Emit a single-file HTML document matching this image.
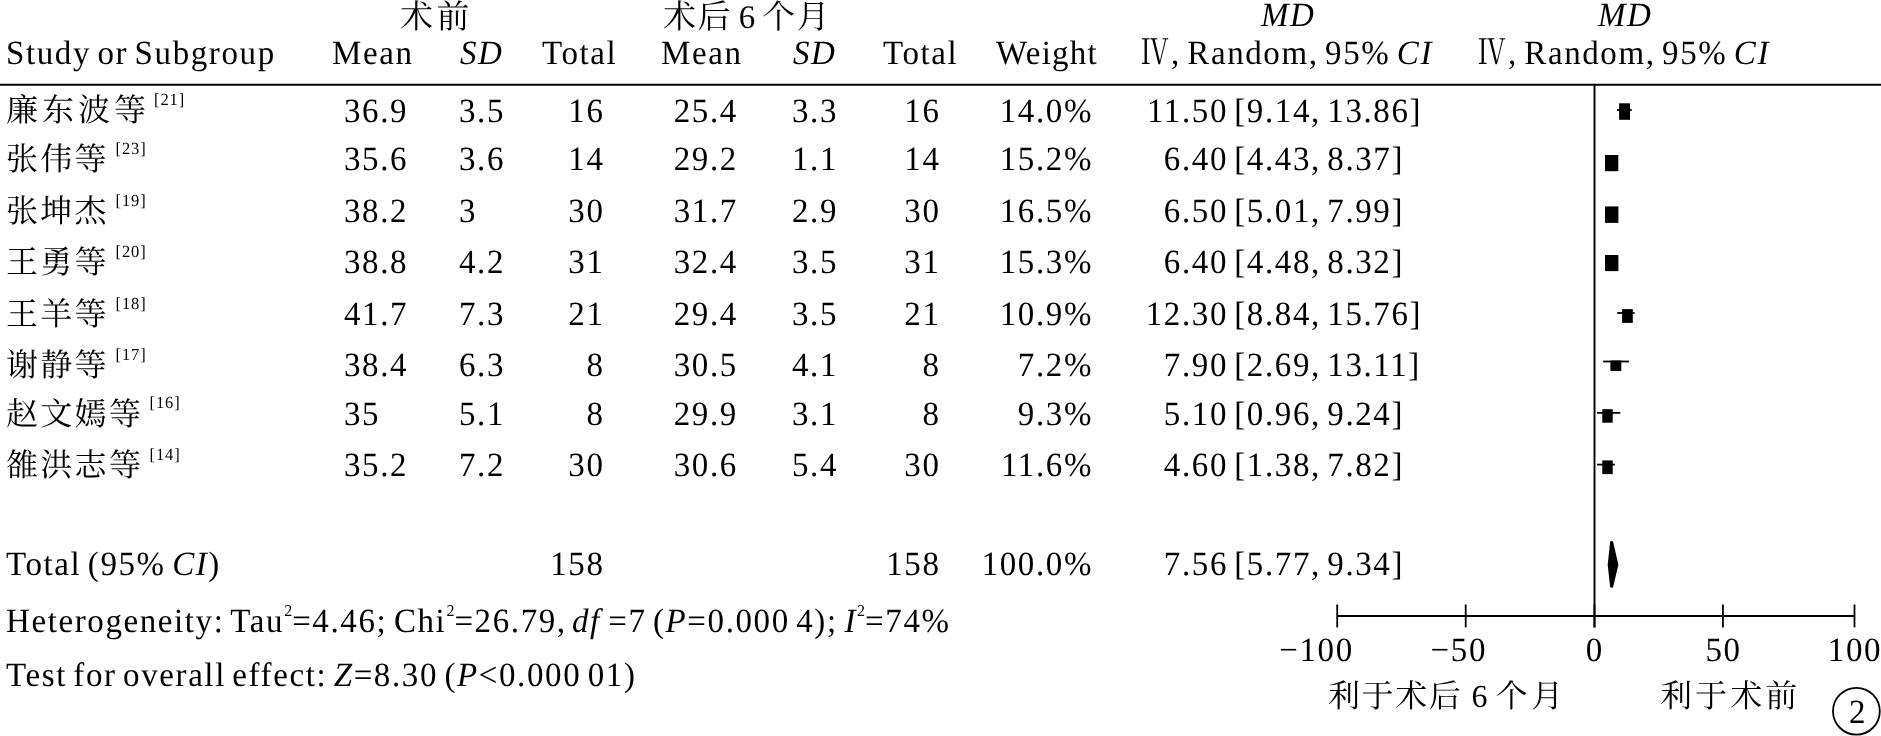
<!DOCTYPE html>
<html><head><meta charset="utf-8"><title>Forest plot</title>
<style>
html,body{margin:0;padding:0;background:#fff;width:1881px;height:736px;overflow:hidden}
svg{display:block;text-rendering:geometricPrecision;will-change:transform}
text{font-family:'Liberation Serif', 'Noto Serif CJK SC', serif;font-size:33px;letter-spacing:1.6px;word-spacing:-3.4px;fill:#000}
</style></head>
<body>
<svg width="1881" height="736" viewBox="0 0 1881 736">
<line x1="0" y1="84.75" x2="1881" y2="84.75" stroke="#000" stroke-width="2.2"/>
<line x1="1594.5" y1="84.75" x2="1594.5" y2="627.4" stroke="#000" stroke-width="1.9"/>
<rect x="1619.1" y="103.3" width="10.90" height="16.50" fill="#000"/>
<line x1="1617.1" y1="110" x2="1631.8" y2="110" stroke="#000" stroke-width="1.8"/>
<rect x="1605" y="155" width="13.30" height="16.20" fill="#000"/>
<rect x="1605" y="206.4" width="13.40" height="16.50" fill="#000"/>
<rect x="1605" y="255" width="13.40" height="16.10" fill="#000"/>
<rect x="1622.1" y="309.1" width="10.70" height="13.80" fill="#000"/>
<line x1="1617.2" y1="313" x2="1634.6" y2="313" stroke="#000" stroke-width="1.8"/>
<rect x="1610.4" y="360.5" width="10.90" height="10.50" fill="#000"/>
<line x1="1603.2" y1="361.5" x2="1628.9" y2="361.5" stroke="#000" stroke-width="1.8"/>
<rect x="1602.3" y="409.2" width="10.40" height="13.50" fill="#000"/>
<line x1="1597.1" y1="412.9" x2="1620.3" y2="412.9" stroke="#000" stroke-width="1.8"/>
<rect x="1602.3" y="460.4" width="10.40" height="13.70" fill="#000"/>
<line x1="1597.1" y1="464.6" x2="1614.8" y2="464.6" stroke="#000" stroke-width="1.8"/>
<polygon points="1610.2,541.2 1613,541.2 1618.4,564.7 1613,587.6 1610.2,587.6 1607.7,564.7" fill="#000"/>
<line x1="1337.2" y1="615.9" x2="1854.5" y2="615.9" stroke="#000" stroke-width="2"/>
<line x1="1337.2" y1="604.5" x2="1337.2" y2="627.4" stroke="#000" stroke-width="1.8"/>
<line x1="1465.7" y1="604.5" x2="1465.7" y2="627.4" stroke="#000" stroke-width="1.8"/>
<line x1="1594.5" y1="604.5" x2="1594.5" y2="627.4" stroke="#000" stroke-width="1.8"/>
<line x1="1722.95" y1="604.5" x2="1722.95" y2="627.4" stroke="#000" stroke-width="1.8"/>
<line x1="1854.5" y1="604.5" x2="1854.5" y2="627.4" stroke="#000" stroke-width="1.8"/>
<circle cx="1856.4" cy="711.2" r="23.4" fill="none" stroke="#000" stroke-width="1.8"/>
<text x="400.00" y="27.80">术<tspan x="436.5">前</tspan></text>
<text x="663.00" y="27.80">术后<tspan x="738.7">6</tspan><tspan x="762">个月</tspan></text>
<text x="1261.00" y="25.90" transform="matrix(1,0,0,1.03,0,-0.777)"><tspan font-style="italic">MD</tspan></text>
<text x="1598.00" y="25.90" transform="matrix(1,0,0,1.03,0,-0.777)"><tspan font-style="italic">MD</tspan></text>
<text x="6.00" y="63.70" transform="matrix(1,0,0,1.03,0,-1.911)">Study or Subgroup</text>
<text x="332.00" y="63.70" transform="matrix(1,0,0,1.03,0,-1.911)">Mean</text>
<text x="460.00" y="63.70" transform="matrix(1,0,0,1.03,0,-1.911)"><tspan font-style="italic">SD</tspan></text>
<text x="542.00" y="63.70" transform="matrix(1,0,0,1.03,0,-1.911)">Total</text>
<text x="661.00" y="63.70" transform="matrix(1,0,0,1.03,0,-1.911)">Mean</text>
<text x="793.00" y="63.70" transform="matrix(1,0,0,1.03,0,-1.911)"><tspan font-style="italic">SD</tspan></text>
<text x="883.00" y="63.70" transform="matrix(1,0,0,1.03,0,-1.911)">Total</text>
<text x="996.00" y="63.70" transform="matrix(1,0,0,1.03,0,-1.911)" style="letter-spacing:1.25px;">Weight</text>
<text transform="translate(1141.00,64.40) scale(0.84,1.05)" style="font-size:33px;letter-spacing:0">Ⅳ</text>
<text x="1171.00" y="64.40" transform="matrix(1,0,0,1.03,0,-1.932)">, Random, 95% <tspan font-style="italic">CI</tspan></text>
<text transform="translate(1478.00,64.40) scale(0.84,1.05)" style="font-size:33px;letter-spacing:0">Ⅳ</text>
<text x="1508.00" y="64.40" transform="matrix(1,0,0,1.03,0,-1.932)">, Random, 95% <tspan font-style="italic">CI</tspan></text>
<text x="6.00" y="120.70" style="font-size:32px;letter-spacing:4.0px;">廉东波等</text>
<text x="154.00" y="105.50" transform="matrix(1,0,0,1.03,0,-3.165)" style="font-size:16.5px;letter-spacing:0.9px;">[21]</text>
<text x="344.00" y="121.70" transform="matrix(1,0,0,1.03,0,-3.651)">36.9</text>
<text x="459.00" y="121.70" transform="matrix(1,0,0,1.03,0,-3.651)">3.5</text>
<text x="604.50" y="121.70" text-anchor="end" transform="matrix(1,0,0,1.03,0,-3.651)">16</text>
<text x="673.75" y="121.70" transform="matrix(1,0,0,1.03,0,-3.651)">25.4</text>
<text x="792.00" y="121.70" transform="matrix(1,0,0,1.03,0,-3.651)">3.3</text>
<text x="940.50" y="121.70" text-anchor="end" transform="matrix(1,0,0,1.03,0,-3.651)">16</text>
<text x="1093.00" y="121.70" text-anchor="end" transform="matrix(1,0,0,1.03,0,-3.651)">14.0%</text>
<text x="1228.00" y="121.70" text-anchor="end" transform="matrix(1,0,0,1.03,0,-3.651)">11.50</text>
<text x="1234.25" y="121.70" transform="matrix(1,0,0,1.03,0,-3.651)">[9.14, 13.86]</text>
<text x="6.00" y="169.90" style="font-size:32px;letter-spacing:2.3px;">张伟等</text>
<text x="115.50" y="153.70" transform="matrix(1,0,0,1.03,0,-4.611)" style="font-size:16.5px;letter-spacing:0.9px;">[23]</text>
<text x="344.00" y="169.90" transform="matrix(1,0,0,1.03,0,-5.097)">35.6</text>
<text x="459.00" y="169.90" transform="matrix(1,0,0,1.03,0,-5.097)">3.6</text>
<text x="604.50" y="169.90" text-anchor="end" transform="matrix(1,0,0,1.03,0,-5.097)">14</text>
<text x="673.75" y="169.90" transform="matrix(1,0,0,1.03,0,-5.097)">29.2</text>
<text x="792.00" y="169.90" transform="matrix(1,0,0,1.03,0,-5.097)">1.1</text>
<text x="940.50" y="169.90" text-anchor="end" transform="matrix(1,0,0,1.03,0,-5.097)">14</text>
<text x="1093.00" y="169.90" text-anchor="end" transform="matrix(1,0,0,1.03,0,-5.097)">15.2%</text>
<text x="1228.00" y="169.90" text-anchor="end" transform="matrix(1,0,0,1.03,0,-5.097)">6.40</text>
<text x="1234.25" y="169.90" transform="matrix(1,0,0,1.03,0,-5.097)">[4.43, 8.37]</text>
<text x="6.00" y="221.70" style="font-size:32px;letter-spacing:2.3px;">张坤杰</text>
<text x="115.50" y="205.50" transform="matrix(1,0,0,1.03,0,-6.165)" style="font-size:16.5px;letter-spacing:0.9px;">[19]</text>
<text x="344.00" y="221.70" transform="matrix(1,0,0,1.03,0,-6.651)">38.2</text>
<text x="459.00" y="221.70" transform="matrix(1,0,0,1.03,0,-6.651)">3</text>
<text x="604.50" y="221.70" text-anchor="end" transform="matrix(1,0,0,1.03,0,-6.651)">30</text>
<text x="673.75" y="221.70" transform="matrix(1,0,0,1.03,0,-6.651)">31.7</text>
<text x="792.00" y="221.70" transform="matrix(1,0,0,1.03,0,-6.651)">2.9</text>
<text x="940.50" y="221.70" text-anchor="end" transform="matrix(1,0,0,1.03,0,-6.651)">30</text>
<text x="1093.00" y="221.70" text-anchor="end" transform="matrix(1,0,0,1.03,0,-6.651)">16.5%</text>
<text x="1228.00" y="221.70" text-anchor="end" transform="matrix(1,0,0,1.03,0,-6.651)">6.50</text>
<text x="1234.25" y="221.70" transform="matrix(1,0,0,1.03,0,-6.651)">[5.01, 7.99]</text>
<text x="6.00" y="272.70" style="font-size:32px;letter-spacing:2.3px;">王勇等</text>
<text x="115.50" y="256.50" transform="matrix(1,0,0,1.03,0,-7.695)" style="font-size:16.5px;letter-spacing:0.9px;">[20]</text>
<text x="344.00" y="272.70" transform="matrix(1,0,0,1.03,0,-8.181)">38.8</text>
<text x="459.00" y="272.70" transform="matrix(1,0,0,1.03,0,-8.181)">4.2</text>
<text x="604.50" y="272.70" text-anchor="end" transform="matrix(1,0,0,1.03,0,-8.181)">31</text>
<text x="673.75" y="272.70" transform="matrix(1,0,0,1.03,0,-8.181)">32.4</text>
<text x="792.00" y="272.70" transform="matrix(1,0,0,1.03,0,-8.181)">3.5</text>
<text x="940.50" y="272.70" text-anchor="end" transform="matrix(1,0,0,1.03,0,-8.181)">31</text>
<text x="1093.00" y="272.70" text-anchor="end" transform="matrix(1,0,0,1.03,0,-8.181)">15.3%</text>
<text x="1228.00" y="272.70" text-anchor="end" transform="matrix(1,0,0,1.03,0,-8.181)">6.40</text>
<text x="1234.25" y="272.70" transform="matrix(1,0,0,1.03,0,-8.181)">[4.48, 8.32]</text>
<text x="6.00" y="324.70" style="font-size:32px;letter-spacing:2.3px;">王羊等</text>
<text x="115.50" y="308.50" transform="matrix(1,0,0,1.03,0,-9.255)" style="font-size:16.5px;letter-spacing:0.9px;">[18]</text>
<text x="344.00" y="324.70" transform="matrix(1,0,0,1.03,0,-9.741)">41.7</text>
<text x="459.00" y="324.70" transform="matrix(1,0,0,1.03,0,-9.741)">7.3</text>
<text x="604.50" y="324.70" text-anchor="end" transform="matrix(1,0,0,1.03,0,-9.741)">21</text>
<text x="673.75" y="324.70" transform="matrix(1,0,0,1.03,0,-9.741)">29.4</text>
<text x="792.00" y="324.70" transform="matrix(1,0,0,1.03,0,-9.741)">3.5</text>
<text x="940.50" y="324.70" text-anchor="end" transform="matrix(1,0,0,1.03,0,-9.741)">21</text>
<text x="1093.00" y="324.70" text-anchor="end" transform="matrix(1,0,0,1.03,0,-9.741)">10.9%</text>
<text x="1228.00" y="324.70" text-anchor="end" transform="matrix(1,0,0,1.03,0,-9.741)">12.30</text>
<text x="1234.25" y="324.70" transform="matrix(1,0,0,1.03,0,-9.741)">[8.84, 15.76]</text>
<text x="6.00" y="376.10" style="font-size:32px;letter-spacing:2.3px;">谢静等</text>
<text x="115.50" y="359.90" transform="matrix(1,0,0,1.03,0,-10.797)" style="font-size:16.5px;letter-spacing:0.9px;">[17]</text>
<text x="344.00" y="376.10" transform="matrix(1,0,0,1.03,0,-11.283)">38.4</text>
<text x="459.00" y="376.10" transform="matrix(1,0,0,1.03,0,-11.283)">6.3</text>
<text x="604.50" y="376.10" text-anchor="end" transform="matrix(1,0,0,1.03,0,-11.283)">8</text>
<text x="673.75" y="376.10" transform="matrix(1,0,0,1.03,0,-11.283)">30.5</text>
<text x="792.00" y="376.10" transform="matrix(1,0,0,1.03,0,-11.283)">4.1</text>
<text x="940.50" y="376.10" text-anchor="end" transform="matrix(1,0,0,1.03,0,-11.283)">8</text>
<text x="1093.00" y="376.10" text-anchor="end" transform="matrix(1,0,0,1.03,0,-11.283)">7.2%</text>
<text x="1228.00" y="376.10" text-anchor="end" transform="matrix(1,0,0,1.03,0,-11.283)">7.90</text>
<text x="1234.25" y="376.10" transform="matrix(1,0,0,1.03,0,-11.283)">[2.69, 13.11]</text>
<text x="6.00" y="424.50" style="font-size:32px;letter-spacing:2.3px;">赵文嫣等</text>
<text x="149.50" y="408.30" transform="matrix(1,0,0,1.03,0,-12.249)" style="font-size:16.5px;letter-spacing:0.9px;">[16]</text>
<text x="344.00" y="424.50" transform="matrix(1,0,0,1.03,0,-12.735)">35</text>
<text x="459.00" y="424.50" transform="matrix(1,0,0,1.03,0,-12.735)">5.1</text>
<text x="604.50" y="424.50" text-anchor="end" transform="matrix(1,0,0,1.03,0,-12.735)">8</text>
<text x="673.75" y="424.50" transform="matrix(1,0,0,1.03,0,-12.735)">29.9</text>
<text x="792.00" y="424.50" transform="matrix(1,0,0,1.03,0,-12.735)">3.1</text>
<text x="940.50" y="424.50" text-anchor="end" transform="matrix(1,0,0,1.03,0,-12.735)">8</text>
<text x="1093.00" y="424.50" text-anchor="end" transform="matrix(1,0,0,1.03,0,-12.735)">9.3%</text>
<text x="1228.00" y="424.50" text-anchor="end" transform="matrix(1,0,0,1.03,0,-12.735)">5.10</text>
<text x="1234.25" y="424.50" transform="matrix(1,0,0,1.03,0,-12.735)">[0.96, 9.24]</text>
<text x="6.00" y="476.00" style="font-size:32px;letter-spacing:2.3px;">雒洪志等</text>
<text x="149.50" y="459.80" transform="matrix(1,0,0,1.03,0,-13.794)" style="font-size:16.5px;letter-spacing:0.9px;">[14]</text>
<text x="344.00" y="476.00" transform="matrix(1,0,0,1.03,0,-14.280)">35.2</text>
<text x="459.00" y="476.00" transform="matrix(1,0,0,1.03,0,-14.280)">7.2</text>
<text x="604.50" y="476.00" text-anchor="end" transform="matrix(1,0,0,1.03,0,-14.280)">30</text>
<text x="673.75" y="476.00" transform="matrix(1,0,0,1.03,0,-14.280)">30.6</text>
<text x="792.00" y="476.00" transform="matrix(1,0,0,1.03,0,-14.280)">5.4</text>
<text x="940.50" y="476.00" text-anchor="end" transform="matrix(1,0,0,1.03,0,-14.280)">30</text>
<text x="1093.00" y="476.00" text-anchor="end" transform="matrix(1,0,0,1.03,0,-14.280)">11.6%</text>
<text x="1228.00" y="476.00" text-anchor="end" transform="matrix(1,0,0,1.03,0,-14.280)">4.60</text>
<text x="1234.25" y="476.00" transform="matrix(1,0,0,1.03,0,-14.280)">[1.38, 7.82]</text>
<text x="6.00" y="574.70" transform="matrix(1,0,0,1.03,0,-17.241)">Total (95% <tspan font-style="italic">CI</tspan>)</text>
<text x="604.50" y="574.70" text-anchor="end" transform="matrix(1,0,0,1.03,0,-17.241)">158</text>
<text x="940.50" y="574.70" text-anchor="end" transform="matrix(1,0,0,1.03,0,-17.241)">158</text>
<text x="1093.00" y="574.70" text-anchor="end" transform="matrix(1,0,0,1.03,0,-17.241)">100.0%</text>
<text x="1228.00" y="574.70" text-anchor="end" transform="matrix(1,0,0,1.03,0,-17.241)">7.56</text>
<text x="1234.25" y="574.70" transform="matrix(1,0,0,1.03,0,-17.241)">[5.77, 9.34]</text>
<text x="6.00" y="632.30" transform="matrix(1,0,0,1.03,0,-18.969)"><tspan>Heterogeneity: Tau</tspan><tspan dy="-16.3" style="font-size:16px;letter-spacing:0px">2</tspan><tspan dy="16.3">=4.46; </tspan><tspan x="393.9">Chi</tspan><tspan dy="-16.3" style="font-size:16px;letter-spacing:0px">2</tspan><tspan dy="16.3">=26.79, </tspan><tspan x="572.0" font-style="italic">df</tspan><tspan dx="1.0"> =7 </tspan><tspan x="653.0">(</tspan><tspan font-style="italic">P</tspan><tspan>=0.000 4); </tspan><tspan x="844.5" font-style="italic">I</tspan><tspan dy="-16.3" style="font-size:16px;letter-spacing:0px">2</tspan><tspan dy="16.3">=74%</tspan></text>
<text x="6.00" y="686.00" transform="matrix(1,0,0,1.03,0,-20.580)">Test for overall effect: <tspan font-style="italic">Z</tspan>=8.30 (<tspan font-style="italic">P</tspan>&lt;0.000 01)</text>
<text x="1316.50" y="661.00" text-anchor="middle" transform="matrix(1,0,0,1.03,0,-19.830)">−100</text>
<text x="1458.80" y="661.00" text-anchor="middle" transform="matrix(1,0,0,1.03,0,-19.830)">−50</text>
<text x="1594.80" y="661.00" text-anchor="middle" transform="matrix(1,0,0,1.03,0,-19.830)">0</text>
<text x="1723.50" y="661.00" text-anchor="middle" transform="matrix(1,0,0,1.03,0,-19.830)">50</text>
<text x="1855.00" y="661.00" text-anchor="middle" transform="matrix(1,0,0,1.03,0,-19.830)">100</text>
<text x="1328.00" y="706.50" style="font-size:32px;">利于术后<tspan x="1471.5">6</tspan><tspan x="1495.5">个</tspan><tspan x="1531.3">月</tspan></text>
<text x="1660.00" y="706.70" style="font-size:32px;letter-spacing:3.1px;">利于术前</text>
<text x="1849.00" y="723.30" transform="matrix(1,0,0,1.03,0,-21.699)">2</text>
</svg>
</body></html>
